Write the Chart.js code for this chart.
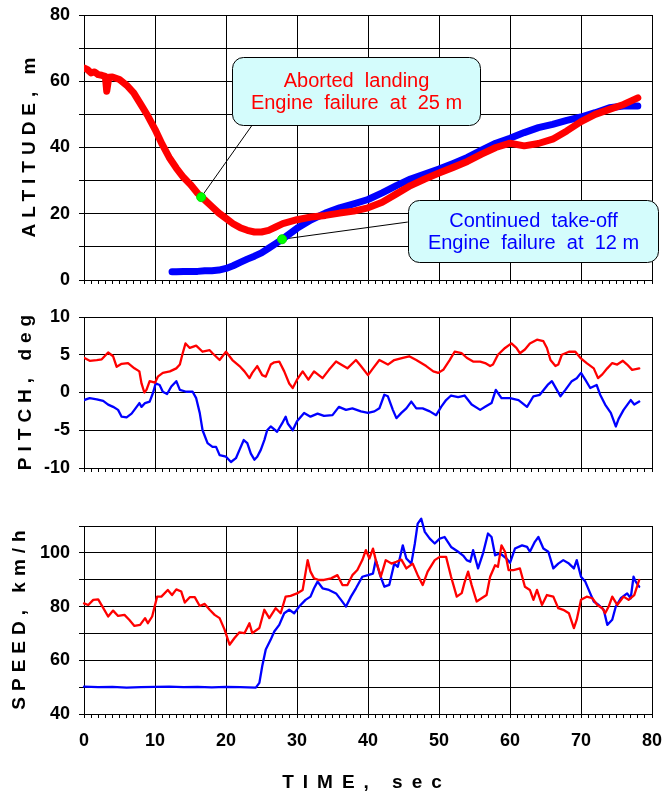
<!DOCTYPE html>
<html>
<head>
<meta charset="utf-8">
<script src="https://cdn.jsdelivr.net/npm/chart.js@4.4.1/dist/chart.umd.min.js"></script>
<style>
  html, body { margin: 0; padding: 0; background: #fff; }
  #wrap { position: relative; width: 662px; height: 793px; }
  #wrap canvas { position: absolute; left: 0; }
</style>
</head>
<body>
<div id="wrap">
  <canvas id="alt" width="662" height="300" style="top:0"></canvas>
  <canvas id="pitch" width="662" height="180" style="top:300px"></canvas>
  <canvas id="speed" width="662" height="313" style="top:480px"></canvas>
</div>
<script>
// ── Data ──────────────────────────────────────
const timeLabels = [0, 10, 20, 30, 40, 50, 60, 70, 80];
const altLabels = [0, 20, 40, 60, 80];
const pitchLabels = [-10, -5, 0, 5, 10];
const speedLabels = [40, 60, 80, 100];

// altitude, aborted landing (red)
const altLandT = [0, 0.5, 1, 1.5, 2, 2.5, 3, 3.2, 3.5, 4,
  5, 6, 7, 8, 9, 10, 11, 12, 13, 14, 15, 16, 17, 18, 19, 20, 21, 22, 23, 24, 25, 26, 27, 28, 29, 30,
  32, 34, 36, 38, 40, 42, 44, 46, 48, 50, 52, 54, 56, 58, 60, 62, 64, 66, 68, 70, 72, 74, 76, 78];
const altLand = [64, 63.5, 62.5, 62.8, 62, 61.8, 61.5, 57, 61.2, 61.3,
  60.5, 58.8, 56.5, 53, 49.5, 45.5, 41, 37, 33.8, 31, 28.8, 26.2, 24.2, 22.2, 20.2, 18.6, 17, 15.8, 15, 14.5, 14.5, 15, 16, 17, 17.6, 18.2,
  19, 19.5, 20.2, 20.8, 21.8, 23.5, 26, 28.5, 30.5, 32.3, 34, 35.8, 38, 40, 41.3, 40.5, 41.2, 42.5, 45, 47.8, 50, 51.5, 53, 55];

// altitude, continued take-off (blue)
const altTakeT = [12.4, 13, 14, 15, 16, 17, 18, 19, 20, 21, 22, 23, 24, 25, 26, 27, 28, 29, 30,
  32, 34, 36, 38, 40, 42, 44, 46, 48, 50, 52, 54, 56, 58, 60, 62, 64, 66, 68, 70, 72, 74, 76, 78];
const altTake = [2.5, 2.5, 2.6, 2.6, 2.6, 2.8, 2.8, 3.0, 3.5, 4.3, 5.3, 6.3, 7.2, 8.2, 9.6, 11, 12.4, 14, 15.6,
  18.2, 20.2, 21.8, 23, 24.3, 26.3, 28.5, 30.5, 32, 33.5, 35.2, 37, 39.2, 41.3, 42.8, 44.5, 46, 47, 48.2, 49.2, 50.5, 52, 52.5, 52.5];

// engine failure points
const failT = [16.5, 27.9];
const failAlt = [25, 12.3];

// pitch, landing (red)
const pitchLandT = [0, 0.8, 1.8, 2.5, 3.4, 4.1, 4.6, 5.3, 6.2, 7.1,
  7.8, 8.1, 8.5, 8.8, 9.25, 10, 10.4, 11.1, 12.1, 13,
  13.5, 13.9, 14.3, 14.9, 15.8, 16.7, 17.7, 18.1, 19.1, 20,
  20.9, 21.9, 22.6, 23.3, 23.7, 24.4, 25.1, 25.6, 26.3, 26.8,
  27.5, 28.2, 28.9, 29.4, 30, 30.8, 31.6, 32.4, 33.6, 34.5,
  35.5, 36.2, 37.1, 38.3, 39, 40, 40.7, 41.6, 42.8, 43.7,
  44.9, 45.8, 46.8, 48.2, 49.2, 49.9, 50.6, 51.5, 52.2, 53.2,
  53.9, 54.8, 55.8, 56.5, 57.2, 57.6, 58.3, 59.3, 60.2, 60.9,
  61.4, 62.1, 62.8, 63.8, 64.7, 65.2, 65.7, 66.4, 66.8, 67.3,
  68.3, 69.2, 69.9, 70.8, 71.8, 72.4, 73, 73.7, 74.4, 75.1,
  75.9, 76.5, 77.2, 78.2];
const pitchLand = [4.6, 4.2, 4.3, 4.4, 5.3, 4.8, 3.4, 3.8, 3.9, 3.2,
  2.8, 1.2, 0.0, 0.35, 1.5, 1.3, 2.1, 2.6, 2.8, 3.2,
  3.7, 5.2, 6.5, 5.9, 6.2, 5.4, 5.6, 5.2, 4.3, 5.4,
  4.3, 3.5, 2.8, 1.9, 2.6, 3.5, 2.3, 2.1, 3.7, 4.0,
  4.1, 2.8, 1.2, 0.6, 1.7, 2.8, 1.7, 2.8, 1.9, 3.0,
  4.1, 3.7, 3.2, 4.3, 3.5, 2.3, 3.2, 4.3, 3.7, 4.3,
  4.6, 4.8, 4.3, 3.5, 2.8, 2.6, 3.0, 4.3, 5.4, 5.2,
  4.6, 4.1, 4.1, 3.9, 3.5, 3.7, 5.0, 5.9, 6.5, 5.9,
  5.2, 5.7, 6.5, 7.0, 6.8, 5.9, 4.3, 3.5, 3.7, 5.0,
  5.4, 5.4, 4.6, 3.9, 3.2, 1.9, 2.4, 3.2, 3.9, 3.7,
  4.2, 3.7, 3.0, 3.2];

// pitch, take-off (blue)
const pitchTakeT = [0, 0.8, 1.8, 2.7, 3.4, 4.1, 4.8, 5.3, 6.0, 6.7,
  7.1, 7.8, 8.1, 8.6, 9.25, 9.7, 10.1, 10.65, 11.1, 11.7,
  12.3, 13, 13.5, 14.4, 15.3, 15.8, 16.3, 16.7, 17.4, 18.1,
  18.6, 19.1, 20, 20.7, 21.4, 21.9, 22.5, 23, 23.5, 24,
  24.4, 24.9, 25.4, 25.8, 26.3, 27.2, 27.9, 28.4, 28.7, 29.4,
  30, 31, 31.9, 32.9, 33.8, 35, 35.9, 36.9, 37.8, 39,
  40, 40.9, 41.6, 42.3, 42.8, 43.5, 44, 44.7, 45.4, 46.1,
  46.8, 47.7, 48.7, 49.6, 50.3, 51, 51.7, 52.7, 53.6, 54.6,
  55.8, 56.5, 57.4, 58, 58.8, 60, 61.2, 62.4, 63.3, 64.2,
  65.3, 65.9, 66.6, 67.1, 67.8, 68.7, 69.4, 70, 70.6, 71.3,
  72.2, 72.7, 73.4, 74.2, 74.9, 75.3, 76, 77, 77.5, 78.2];
const pitchTake = [-1.0, -0.75, -0.9, -1.1, -1.6, -1.9, -2.3, -3.2, -3.3, -2.8,
  -2.3, -1.4, -1.9, -1.4, -1.2, -0.1, 1.2, 1.0, 0.1, -0.2,
  0.8, 1.5, 0.35, 0.1, 0.1, -0.75, -2.7, -5.0, -6.7, -7.2,
  -7.2, -8.3, -8.5, -9.2, -8.7, -7.6, -6.3, -6.7, -8.1, -8.9,
  -8.5, -7.6, -6.3, -5.0, -4.5, -5.2, -4.1, -3.2, -4.1, -5.0,
  -3.8, -2.7, -3.2, -2.8, -3.1, -3.0, -1.9, -2.3, -2.1, -2.5,
  -2.7, -2.5, -2.1, -0.3, -0.5, -2.3, -3.4, -2.7, -2.1, -1.2,
  -2.1, -2.1, -2.5, -3.0, -1.9, -1.0, -0.4, -0.6, -0.4, -1.6,
  -2.3, -1.9, -1.4, 0.35, -0.75, -0.75, -1.0, -1.9, -0.5, -0.3,
  1.0, 1.5, 0.35, -0.5, 0.35, 1.5, 1.9, 2.6, 1.7, 0.6,
  1.0, -0.3, -1.6, -2.7, -4.5, -3.5, -2.3, -1.0, -1.6, -1.2];

// speed, landing (red)
const speedLandT = [0, 0.6, 1.3, 2.0, 2.6, 3.4, 4.1, 4.8, 5.7, 6.4,
  7.1, 7.9, 8.6, 9.0, 9.6, 10.3, 10.9, 11.8, 12.4, 13,
  13.7, 14.2, 14.9, 15.6, 16.3, 17, 17.7, 18.4, 19.1, 19.8,
  20.5, 21.2, 21.9, 22.6, 23.3, 23.7, 24.7, 25.4, 26.1, 27,
  27.7, 28.4, 29.1, 30, 30.8, 31.5, 31.9, 32.4, 33.1, 33.8,
  34.8, 35.7, 36.4, 37.1, 37.8, 38.5, 39.2, 39.7, 40.2, 40.7,
  41.1, 41.8, 42.5, 43.3, 44, 44.7, 45.4, 46.3, 47, 47.7,
  48.4, 49.4, 50.1, 51, 51.7, 52.5, 53.2, 53.6, 54.1, 54.6,
  55.3, 56, 56.7, 57.2, 57.9, 58.3, 58.8, 59.3, 59.8, 60.5,
  61.4, 62.1, 62.8, 63.3, 63.8, 64.5, 65.2, 66.1, 66.8, 67.5,
  68.3, 69, 69.4, 70, 70.8, 71.6, 72.3, 73, 73.4, 73.9,
  74.4, 75.1, 76, 76.7, 77.5, 78.2];
const speedLand = [81.2, 80.6, 82.5, 82.7, 80, 76.3, 78.5, 76.5, 76.9, 75,
  72.8, 73.2, 75.7, 73.8, 76.3, 83.7, 83.7, 86.2, 84.3, 86.4,
  85.6, 81.5, 83.5, 83.5, 80.2, 81, 78.8, 76.9, 75.7, 71.4,
  65.8, 68.3, 70.4, 70.1, 73.8, 70.1, 72, 78.8, 75.7, 79.4,
  77.5, 83.7, 84, 84.9, 86.2, 97.3, 93, 90.5, 89.9, 89.9,
  90.5, 91.7, 88, 88, 91.7, 93.6, 97.3, 101, 97.9, 101.6,
  97.3, 91.1, 97.3, 96, 96.7, 97.5, 94.2, 96, 91.7, 88,
  93, 97.3, 98.5, 98.5, 91.1, 83.7, 85, 89, 93, 88,
  81.9, 83.1, 84.3, 91.1, 95.4, 94.8, 102.8, 100.4, 93.6, 93.6,
  94.2, 87.4, 86.2, 82.5, 86.2, 80.6, 84.3, 83.7, 79.4, 78.8,
  77.5, 72, 75.1, 82.5, 83.7, 83.1, 80.6, 79.4, 77.5, 80,
  83.7, 80.6, 83.7, 82.5, 84.3, 89.9];

// speed, take-off (blue)
const speedTakeT = [0, 2, 4, 6, 8, 10, 12, 14, 16, 18,
  20, 22, 24.2, 24.7, 25.1, 25.6, 26.3, 26.8, 27.5, 28.2,
  28.9, 29.6, 30.3, 31.2, 31.9, 32.4, 32.9, 33.6, 34.5, 35.5,
  36.2, 36.9, 37.6, 38.3, 39.2, 40, 40.7, 41.1, 41.7, 42.3,
  43, 43.7, 44.2, 44.9, 45.4, 46.1, 46.6, 47, 47.5, 48,
  48.7, 49.4, 50.1, 50.8, 51.7, 52.7, 53.4, 53.9, 54.4, 54.8,
  55.5, 56.2, 56.9, 57.4, 57.9, 58.6, 59.5, 60, 60.7, 61.7,
  62.4, 62.8, 63.5, 64, 64.7, 65.4, 66.1, 66.8, 67.5, 68.3,
  69, 69.4, 70, 70.6, 71.3, 71.8, 72.5, 73.2, 73.7, 74.4,
  74.9, 75.6, 76.5, 77, 77.4, 77.7, 78.2];
const speedTake = [50.2, 50, 50.1, 49.8, 50, 50.1, 50.2, 50, 50.1, 49.9,
  50.1, 50, 49.8, 51.6, 57.8, 64, 67.7, 70.7, 73.2, 77.5,
  78.8, 77.5, 80, 82.5, 83.7, 86.8, 89.3, 86.8, 86.2, 84.9,
  82.5, 80, 83.7, 86.8, 91.1, 91.7, 92.3, 97.3, 91.7, 87.4,
  88.1, 96, 94.8, 102.8, 97.9, 96, 103.5, 110.9, 112.7, 107.8,
  105.3, 103.5, 105.3, 105.9, 102.2, 100.4, 99, 97.3, 96.7, 101,
  94.2, 99.8, 107.2, 105.9, 99.1, 99.8, 97.9, 96.3, 101.6, 102.8,
  102.2, 100.4, 104.1, 105.9, 101.6, 100.4, 94.2, 96, 97.3, 96,
  94.2, 97.3, 91.1, 89.3, 84.9, 81.9, 80.6, 78.8, 73.2, 75.1,
  80, 83.1, 84.9, 83.1, 91.1, 89.3, 87.4];

// ── Helpers ───────────────────────────
const FONT = 'Arial, "Liberation Sans", sans-serif';
const RED = '#ff0000', BLUE = '#0000ff';
Chart.defaults.font.family = FONT;
Chart.defaults.color = '#000';

const pts = (t, v) => t.map((x, i) => ({ x, y: v[i] }));

function series(t, v, color, width, order) {
  return { data: pts(t, v), borderColor: color, borderWidth: width, pointRadius: 0, tension: 0,
           borderJoinStyle: 'round', borderCapStyle: 'round', fill: false, order };
}

// keep the plot area where the layout padding puts it
function noScalePadding(s) {
  s.paddingLeft = 0; s.paddingRight = 0; s.paddingTop = 0; s.paddingBottom = 0;
}

// letter-spaced axis titles
const axisTitles = {
  id: 'axisTitles',
  afterDraw(chart, args, o) {
    const { ctx, chartArea: a } = chart;
    ctx.save();
    ctx.fillStyle = '#000';
    ctx.font = 'bold 19px ' + FONT;
    ctx.textAlign = 'center';
    ctx.textBaseline = 'alphabetic';
    if (o.y) {
      ctx.letterSpacing = o.ySpacing + 'px';
      ctx.save();
      ctx.translate(o.yBase, (a.top + a.bottom) / 2);
      ctx.rotate(-Math.PI / 2);
      ctx.fillText(o.y, o.ySpacing / 2, 0);
      ctx.restore();
    }
    if (o.x) {
      ctx.letterSpacing = o.xSpacing + 'px';
      ctx.fillText(o.x, (a.left + a.right) / 2 + o.xSpacing / 2 - 6, a.bottom + o.xBase);
    }
    ctx.letterSpacing = '0px';
    ctx.restore();
  }
};

// callout boxes with leader lines (positions in data units)
const callouts = {
  id: 'callouts',
  beforeDatasetsDraw(chart, args, o) {
    const { ctx, scales: { x, y } } = chart;
    ctx.save();
    ctx.strokeStyle = '#000';
    ctx.lineWidth = 1;
    o.items.forEach(n => {
      ctx.beginPath();
      ctx.moveTo(x.getPixelForValue(n.from[0]), y.getPixelForValue(n.from[1]));
      ctx.lineTo(x.getPixelForValue(n.to[0]), y.getPixelForValue(n.to[1]));
      ctx.stroke();
    });
    ctx.restore();
  },
  afterDatasetsDraw(chart, args, o) {
    const { ctx, scales: { x, y } } = chart;
    ctx.save();
    o.items.forEach(n => {
      const x0 = Math.round(x.getPixelForValue(n.box[0])) + 0.5, y0 = Math.round(y.getPixelForValue(n.box[1])) + 0.5;
      const x1 = Math.round(x.getPixelForValue(n.box[2])) + 0.5, y1 = Math.round(y.getPixelForValue(n.box[3])) + 0.5;
      ctx.beginPath();
      ctx.roundRect(x0, y0, x1 - x0, y1 - y0, 11);
      ctx.fillStyle = '#d4fcfc';
      ctx.fill();
      ctx.strokeStyle = '#000';
      ctx.lineWidth = 1;
      ctx.stroke();
      ctx.fillStyle = n.color;
      ctx.font = '20px ' + FONT;
      ctx.textAlign = 'center';
      ctx.textBaseline = 'middle';
      const cx = (x0 + x1) / 2, cy = (y0 + y1) / 2;
      ctx.fillText(n.lines[0], cx, cy - 10);
      ctx.fillText(n.lines[1], cx, cy + 12);
    });
    ctx.restore();
  }
};

function panel(id, c) {
  return new Chart(document.getElementById(id), {
    type: 'line',
    data: { datasets: c.datasets },
    options: {
      responsive: false,
      animation: false,
      devicePixelRatio: 1,
      layout: { padding: { top: c.padTop, right: 10, bottom: 0, left: 0 } },
      plugins: {
        legend: { display: false },
        tooltip: { enabled: false },
        axisTitles: c.titles,
        callouts: c.callouts || { items: [] }
      },
      scales: {
        x: {
          type: 'linear', min: 0, max: 80,
          afterFit: s => { s.height = c.xHeight; noScalePadding(s); },
          ticks: {
            stepSize: 1, autoSkip: false, maxRotation: 0, padding: 12, color: '#000',
            font: { size: 18, weight: 'bold' },
            callback: v => (c.showTime && timeLabels.includes(v)) ? String(v) : ''
          },
          grid: {
            color: g => (g.tick && g.tick.value % 10 === 0) ? '#000' : 'rgba(0,0,0,0)',
            tickColor: '#000', tickLength: 4, lineWidth: 1
          },
          border: { color: '#000', width: 1 }
        },
        y: {
          min: c.yMin, max: c.yMax,
          afterFit: s => { s.width = 84; noScalePadding(s); },
          ticks: {
            stepSize: c.yStep, padding: 9, color: '#000',
            font: { size: 18, weight: 'bold' },
            callback: v => c.yLabels.includes(v) ? String(v) : ''
          },
          grid: { color: '#000', tickColor: '#000', tickLength: 5, lineWidth: 1 },
          border: { color: '#000', width: 1 }
        }
      }
    },
    plugins: [axisTitles, callouts]
  });
}

// ── Panels ────────────────────────────
panel('alt', {
  padTop: 15, xHeight: 20, yMin: 0, yMax: 80, yStep: 10, yLabels: altLabels,
  titles: { y: 'ALTITUDE, m', yBase: 35, ySpacing: 6 },
  datasets: [
    { data: pts(failT, failAlt), showLine: false, pointRadius: 4.5, pointBackgroundColor: '#00ff00',
      pointBorderColor: '#00dd00', pointBorderWidth: 1, order: 0 },
    series(altLandT, altLand, RED, 7, 1),
    series(altTakeT, altTake, BLUE, 7, 2)
  ],
  callouts: {
    items: [
      { lines: ['Aborted  landing', 'Engine  failure  at  25 m'], color: RED,
        box: [20.8, 67.3, 55.8, 46.8], from: [23.7, 46.8], to: [failT[0], failAlt[0]] },
      { lines: ['Continued  take-off', 'Engine  failure  at  12 m'], color: BLUE,
        box: [45.6, 24.2, 80.9, 5.4], from: [45.6, 17.5], to: [failT[1], failAlt[1]] }
    ]
  }
});

panel('pitch', {
  padTop: 17, xHeight: 12, yMin: -10, yMax: 10, yStep: 5, yLabels: pitchLabels,
  titles: { y: 'PITCH, deg', yBase: 31, ySpacing: 6 },
  datasets: [
    series(pitchLandT, pitchLand, RED, 2.3, 1),
    series(pitchTakeT, pitchTake, BLUE, 2.3, 2)
  ]
});

panel('speed', {
  padTop: 46, xHeight: 79, yMin: 40, yMax: 110, yStep: 10, yLabels: speedLabels, showTime: true,
  titles: { y: 'SPEED, km/h', yBase: 25, ySpacing: 6, x: 'TIME, sec', xBase: 74, xSpacing: 9 },
  datasets: [
    Object.assign(series(speedLandT, speedLand, RED, 2.3, 1), { clip: false }),
    Object.assign(series(speedTakeT, speedTake, BLUE, 2.3, 2), { clip: false })
  ]
});
</script>
</body>
</html>
